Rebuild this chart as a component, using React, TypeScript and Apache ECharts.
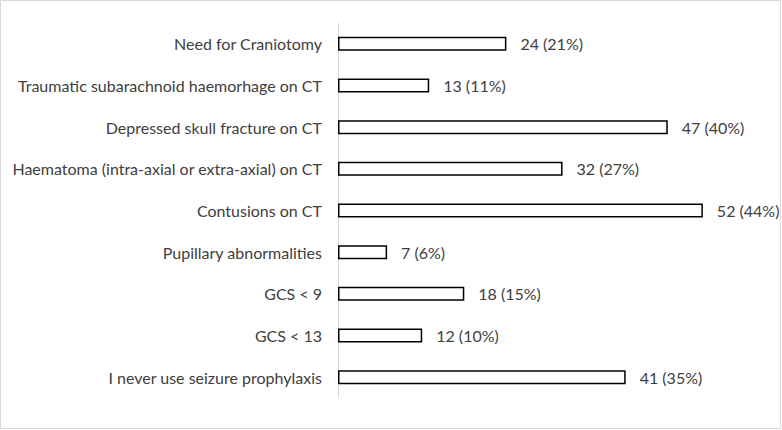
import React, { useEffect, useRef } from "react";
import * as echarts from "echarts";

const categories = [
  "Need for Craniotomy",
  "Traumatic subarachnoid haemorhage on CT",
  "Depressed skull fracture on CT",
  "Haematoma (intra-axial or extra-axial) on CT",
  "Contusions on CT",
  "Pupillary abnormalities",
  "GCS < 9",
  "GCS < 13",
  "I never use seizure prophylaxis",
];
const counts = [24, 13, 47, 32, 52, 7, 18, 12, 41];
const percents = [21, 11, 40, 27, 44, 6, 15, 10, 35];

export default function App() {
  const ref = useRef<HTMLDivElement>(null);
  useEffect(() => {
    const chart = echarts.init(ref.current!, null, { renderer: "svg" });
    chart.setOption({
      animation: false,
      backgroundColor: "#ffffff",
      graphic: [
        {
          type: "rect",
          shape: { x: 0.5, y: 0.5, width: 780, height: 428 },
          style: { fill: "none", stroke: "#d9d9d9", lineWidth: 1 },
        },
      ],
      grid: { left: 338, top: 23, width: 421, height: 375, containLabel: false },
      xAxis: {
        type: "value",
        min: 0,
        max: 60,
        show: false,
      },
      yAxis: {
        type: "category",
        inverse: true,
        data: categories,
        axisLine: { show: true, lineStyle: { color: "#d9d9d9", width: 1 } },
        axisTick: { show: false },
        axisLabel: {
          margin: 16,
          color: "#404040",
          fontFamily: "Lato",
          fontSize: 16,
        },
      },
      series: [
        {
          type: "bar",
          data: counts,
          barWidth: 14,
          itemStyle: { color: "#ffffff", borderColor: "#000000", borderWidth: 1.5 },
          label: {
            show: true,
            position: "right",
            distance: 14,
            color: "#404040",
            fontFamily: "Lato",
            fontSize: 16,
            formatter: (p: any) => `${counts[p.dataIndex]} (${percents[p.dataIndex]}%)`,
          },
        },
      ],
    });
    return () => chart.dispose();
  }, []);
  return (
    <div
      ref={ref}
      style={{ position: "fixed", left: 0, top: 0, width: 782, height: 430 }}
    />
  );
}
